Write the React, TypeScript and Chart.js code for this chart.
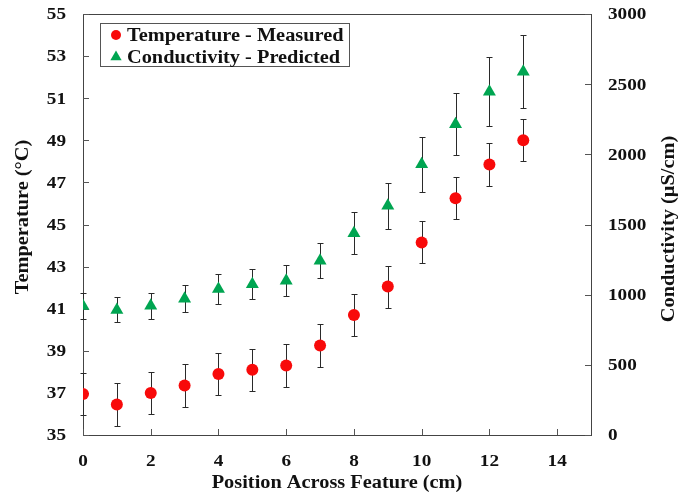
import React, { useEffect, useRef } from "react";
import { Chart, registerables } from "chart.js";

Chart.register(...registerables);

const positions = [0, 1, 2, 3, 4, 5, 6, 7, 8, 9, 10, 11, 12, 13];
const temperature = [36.95, 36.45, 37.0, 37.35, 37.9, 38.1, 38.3, 39.25, 40.7, 42.05, 44.15, 46.25, 47.85, 49.0];
const temperatureError = [1, 1, 1, 1, 1, 1, 1, 1, 1, 1, 1, 1, 1, 1];
const conductivity = [919, 891, 921, 971, 1040, 1074, 1100, 1242, 1437, 1634, 1929, 2214, 2446, 2589];
const conductivityError = [92, 89, 92, 97, 104, 107, 110, 124, 150, 163, 194, 222, 246, 260];

const tempTicks = [35, 37, 39, 41, 43, 45, 47, 49, 51, 53, 55];
const condTicks = [0, 500, 1000, 1500, 2000, 2500, 3000];
const xTicks = [0, 2, 4, 6, 8, 10, 12, 14];

const seriesNames = ["Temperature - Measured", "Conductivity - Predicted"];
const xTitle = "Position Across Feature (cm)";
const yTitle = "Temperature (°C)";
const y1Title = "Conductivity (µS/cm)";

const RED = "#F80A0A";
const GREEN = "#00A551";
const TEXT = "#111";
const FONT = '"Liberation Serif", "Times New Roman", serif';
const STRETCH = 1.13;

function stretchedText(ctx: any, text: string, x: number, y: number, align: string, rot = 0) {
  ctx.save();
  ctx.translate(x, y);
  if (rot) ctx.rotate(rot);
  ctx.scale(STRETCH, 1);
  ctx.textAlign = align;
  ctx.textBaseline = "middle";
  ctx.fillText(text, 0, 0);
  ctx.restore();
}

const framePlugin = {
  id: "frame",
  beforeDatasetsDraw(chart: any) {
    const { ctx, chartArea: a, scales } = chart;
    ctx.save();
    ctx.strokeStyle = "#444";
    ctx.lineWidth = 1;
    ctx.strokeRect(Math.round(a.left) + 0.5, Math.round(a.top) + 0.5, Math.round(a.right - a.left), Math.round(a.bottom - a.top));
    ctx.strokeStyle = "#555";
    const tl = 6;
    ctx.beginPath();
    xTicks.forEach((v) => {
      const x = Math.round(scales.x.getPixelForValue(v)) + 0.5;
      ctx.moveTo(x, a.bottom);
      ctx.lineTo(x, a.bottom - tl);
    });
    tempTicks.forEach((v) => {
      const y = Math.round(scales.y.getPixelForValue(v)) + 0.5;
      ctx.moveTo(a.left, y);
      ctx.lineTo(a.left + tl, y);
    });
    condTicks.forEach((v) => {
      const y = Math.round(scales.y1.getPixelForValue(v)) + 0.5;
      ctx.moveTo(a.right, y);
      ctx.lineTo(a.right - tl, y);
    });
    ctx.stroke();

    // error bars
    ctx.strokeStyle = "#2a2a2a";
    ctx.lineWidth = 1;
    const cap = 3;
    const drawBars = (vals: number[], errs: number[], scale: any) => {
      ctx.beginPath();
      vals.forEach((v, i) => {
        const x = Math.round(scales.x.getPixelForValue(positions[i])) + 0.5;
        const yt = Math.round(scale.getPixelForValue(v + errs[i])) + 0.5;
        const yb = Math.round(scale.getPixelForValue(v - errs[i])) + 0.5;
        ctx.moveTo(x, yt);
        ctx.lineTo(x, yb);
        ctx.moveTo(x - cap, yt);
        ctx.lineTo(x + cap, yt);
        ctx.moveTo(x - cap, yb);
        ctx.lineTo(x + cap, yb);
      });
      ctx.stroke();
    };
    drawBars(temperature, temperatureError, scales.y);
    drawBars(conductivity, conductivityError, scales.y1);
    ctx.restore();
  },
  afterDraw(chart: any) {
    const { ctx, chartArea: a, scales } = chart;
    ctx.save();
    ctx.fillStyle = TEXT;

    // tick labels
    ctx.font = `bold 17px ${FONT}`;
    xTicks.forEach((v) => stretchedText(ctx, String(v), scales.x.getPixelForValue(v), a.bottom + 27, "center"));
    tempTicks.forEach((v) => stretchedText(ctx, String(v), a.left - 17, scales.y.getPixelForValue(v) + 1, "right"));
    condTicks.forEach((v) => stretchedText(ctx, String(v), a.right + 17, scales.y1.getPixelForValue(v) + 1, "left"));

    // axis titles
    ctx.font = `bold 18px ${FONT}`;
    stretchedText(ctx, xTitle, (a.left + a.right) / 2, 483, "center");
    stretchedText(ctx, yTitle, 23, 217, "center", -Math.PI / 2);
    stretchedText(ctx, y1Title, 669, 229, "center", -Math.PI / 2);

    // legend
    const lx = a.left + 17;
    const ly = a.top + 9;
    const lw = 249;
    const lh = 43;
    ctx.fillStyle = "#fff";
    ctx.fillRect(lx, ly, lw, lh);
    ctx.strokeStyle = "#555";
    ctx.lineWidth = 1;
    ctx.strokeRect(lx + 0.5, ly + 0.5, lw, lh);
    const mx = lx + 16;
    const r1y = ly + 12;
    const r2y = ly + 34;
    ctx.fillStyle = RED;
    ctx.beginPath();
    ctx.arc(mx, r1y, 5, 0, Math.PI * 2);
    ctx.fill();
    ctx.fillStyle = GREEN;
    ctx.beginPath();
    const tr = 6.5;
    ctx.moveTo(mx, r2y - tr);
    ctx.lineTo(mx + tr * Math.sin((2 * Math.PI) / 3), r2y - tr * Math.cos((2 * Math.PI) / 3));
    ctx.lineTo(mx + tr * Math.sin((4 * Math.PI) / 3), r2y - tr * Math.cos((4 * Math.PI) / 3));
    ctx.closePath();
    ctx.fill();
    ctx.fillStyle = TEXT;
    ctx.font = `bold 18px ${FONT}`;
    stretchedText(ctx, seriesNames[0], lx + 27, r1y + 1, "left");
    stretchedText(ctx, seriesNames[1], lx + 27, r2y + 1, "left");
    ctx.restore();
  },
};

export default function App() {
  const ref = useRef<HTMLCanvasElement>(null);
  useEffect(() => {
    if (!ref.current) return;
    const zeroPad = (s: any) => {
      s.paddingTop = 0;
      s.paddingBottom = 0;
      s.paddingLeft = 0;
      s.paddingRight = 0;
    };
    const chart = new Chart(ref.current, {
      type: "scatter",
      data: {
        datasets: [
          {
            label: seriesNames[0],
            data: positions.map((x, i) => ({ x, y: temperature[i] })),
            yAxisID: "y",
            pointStyle: "circle",
            pointRadius: 6,
            pointBackgroundColor: RED,
            pointBorderWidth: 0,
            showLine: false,
          },
          {
            label: seriesNames[1],
            data: positions.map((x, i) => ({ x, y: conductivity[i] })),
            yAxisID: "y1",
            pointStyle: "triangle",
            pointRadius: 7.5,
            pointBackgroundColor: GREEN,
            pointBorderWidth: 0,
            showLine: false,
          },
        ],
      },
      options: {
        responsive: false,
        animation: false,
        devicePixelRatio: 1,
        layout: { padding: { top: 14, left: 0, right: 0, bottom: 0 } },
        plugins: { legend: { display: false }, tooltip: { enabled: false } },
        scales: {
          x: {
            type: "linear",
            min: 0,
            max: 15,
            afterFit: (s: any) => {
              s.height = 60;
              zeroPad(s);
            },
            grid: { display: false, drawTicks: false },
            border: { display: false },
            ticks: { display: false },
          },
          y: {
            type: "linear",
            position: "left",
            min: 35,
            max: 55,
            afterFit: (s: any) => {
              s.width = 83;
              zeroPad(s);
            },
            grid: { display: false, drawTicks: false },
            border: { display: false },
            ticks: { display: false },
          },
          y1: {
            type: "linear",
            position: "right",
            min: 0,
            max: 3000,
            afterFit: (s: any) => {
              s.width = 100;
              zeroPad(s);
            },
            grid: { display: false, drawTicks: false },
            border: { display: false },
            ticks: { display: false },
          },
        },
      },
      plugins: [framePlugin],
    });
    return () => chart.destroy();
  }, []);
  return (
    <div style={{ position: "absolute", left: 0, top: 0, width: 691, height: 495, background: "#fff" }}>
      <canvas ref={ref} width={691} height={495} />
    </div>
  );
}
